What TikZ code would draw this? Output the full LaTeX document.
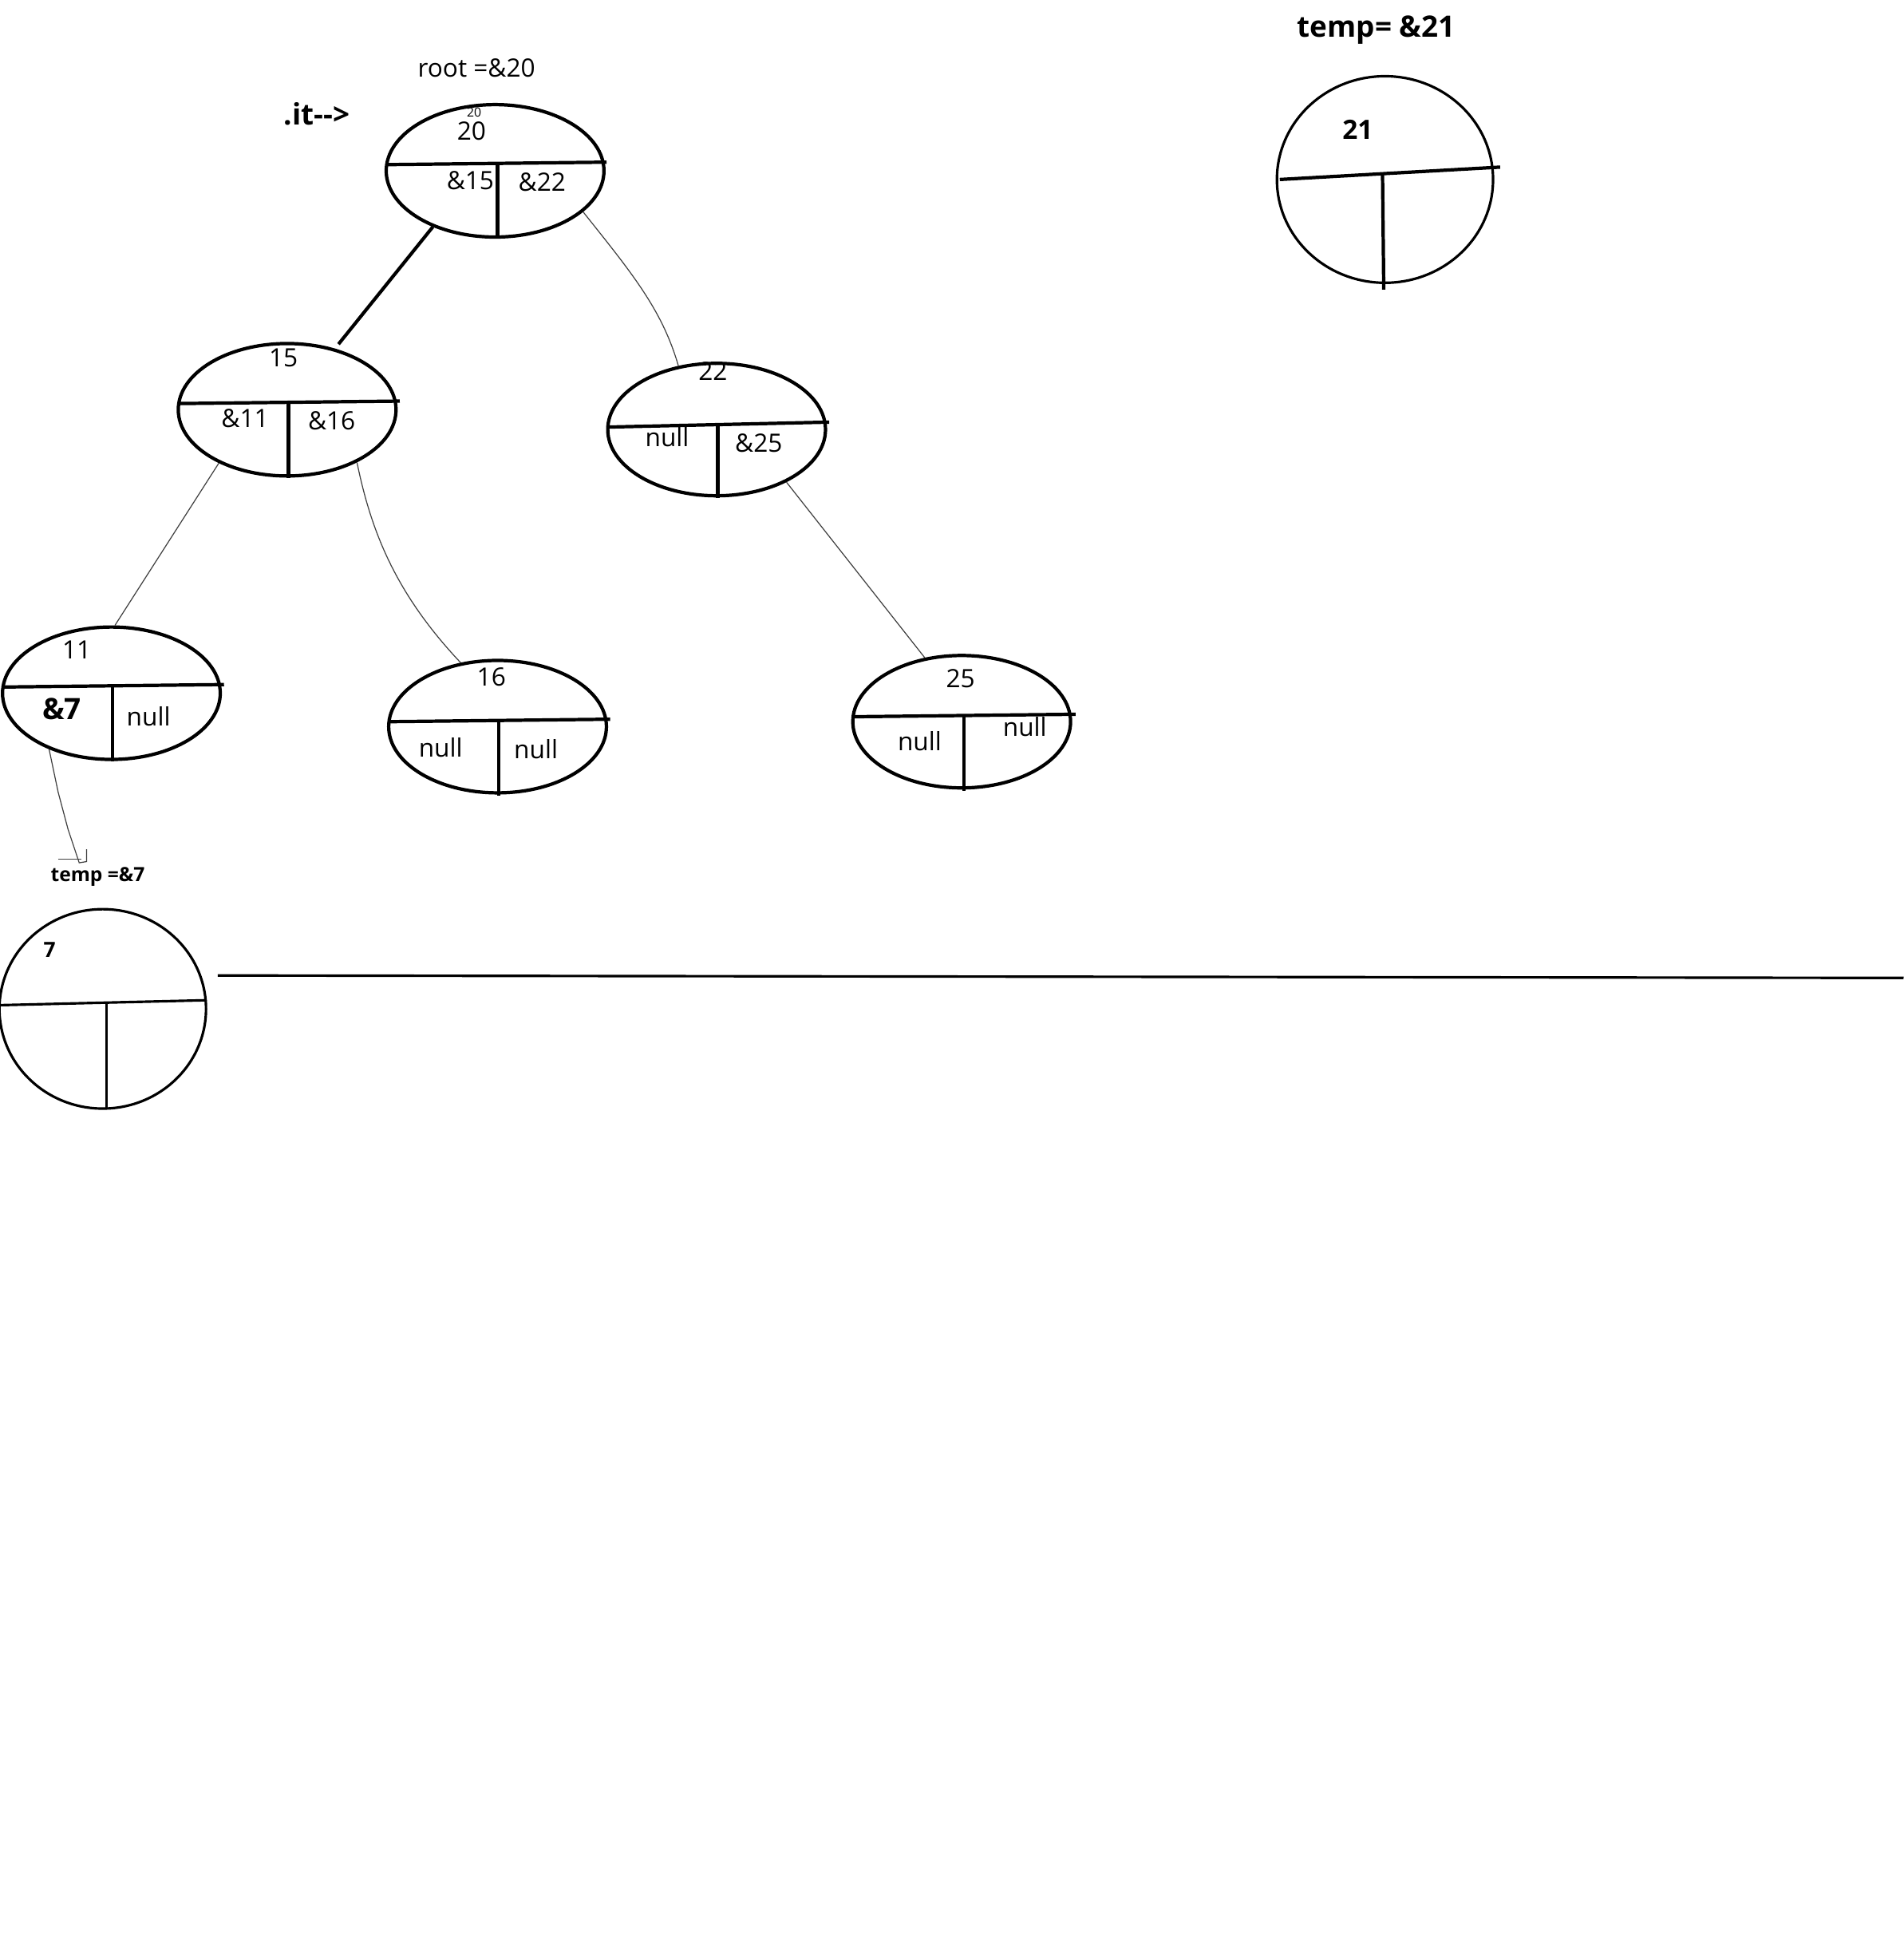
\documentclass[tikz,border=0pt]{standalone}
\usepackage{fontspec}
\setmainfont{Open Sans}
\usepackage{tikz}
\usetikzlibrary{shapes.geometric}

\begin{document}
\begin{tikzpicture}[x=0.015514cm, y=-0.015514cm, font=\fontsize{9}{11}\selectfont,
    cell/.style={draw, ellipse, line width=1.2pt, minimum width=2.73cm, minimum height=1.66cm, inner sep=0pt},
    ring/.style={draw, ellipse, line width=0.9pt, inner sep=0pt},
    bar/.style={line width=1.2pt},
    thinbar/.style={line width=0.9pt},
    link/.style={black!75, line width=0.35pt},
    txt/.style={inner sep=1pt},
    bold/.style={inner sep=1pt, font=\fontsize{10.5}{12}\selectfont\bfseries}]
\useasboundingbox (0,0) rectangle (1538,1568);

\node[cell] (n20) at (400,138) {};
\node[cell] (n15) at (232,331) {};
\node[cell] (n22) at (579,347) {};
\node[cell] (n11) at (90,560) {};
\node[cell] (n16) at (402,587) {};
\node[cell] (n25) at (777,583) {};
\node[ring, minimum width=2.59cm, minimum height=2.50cm] (n7) at (83,815) {};
\node[ring, minimum width=2.71cm, minimum height=2.59cm] (n21) at (1119,145) {};

\draw[bar] (312,133) -- (490,131);
\draw[bar] (402,131) -- (402,193);
\draw[bar] (144,326) -- (323,324);
\draw[bar] (233,324) -- (233,386);
\draw[bar] (491,345) -- (670,341);
\draw[bar] (580,342) -- (580,402);
\draw[bar] (2,555) -- (181,553);
\draw[bar] (91,553) -- (91,615);
\draw[bar] (314,583) -- (493,581);
\draw[bar] (403,581) -- (403,643);
\draw[bar] (689,579) -- (869,577);
\draw[bar] (779,577) -- (779,639);
\draw[thinbar] (0,812) -- (167,808);
\draw[thinbar] (86,810) -- (86,896);
\draw[bar] (1034,145) -- (1212,135);
\draw[bar] (1117,140) -- (1118,234);

\node[txt] (root) at (385,55) {root =\&20};
\node[bold] (it) at (256,92) {.it{-}{-}>};
\node[inner sep=0pt, font=\fontsize{4.5}{5}\selectfont] (v20s) at (383,91) {20};
\node[txt] (v20) at (381,106) {20};
\node[txt] (l20) at (380,146) {\&15};
\node[txt] (r20) at (438,147) {\&22};
\node[txt] (v15) at (229,289) {15};
\node[txt] (l15) at (198,338) {\&11};
\node[txt] (r15) at (268,340) {\&16};
\node[txt] (v22) at (576,300) {22};
\node[txt] (l22) at (539,353) {null};
\node[txt] (r22) at (613,358) {\&25};
\node[txt] (v11) at (62,525) {11};
\node[bold] (l11) at (50,573) {\&7};
\node[txt] (r11) at (120,579) {null};
\node[txt] (v16) at (397,547) {16};
\node[txt] (l16) at (356,604) {null};
\node[txt] (r16) at (433,605) {null};
\node[txt] (v25) at (776,548) {25};
\node[txt] (l25) at (743,599) {null};
\node[txt] (r25) at (828,587) {null};
\node[bold, font=\fontsize{7}{8}\selectfont\bfseries] (t7) at (79,708) {temp =\&7};
\node[bold, font=\fontsize{7.5}{9}\selectfont\bfseries] (v7) at (40,767) {7};
\node[bold] (t21) at (1112,24) {temp= \&21};
\node[bold, font=\fontsize{9.5}{11}\selectfont\bfseries] (v21) at (1097,105) {21};

\coordinate (hook) at (70,686);
\coordinate (tickl) at (47,694);
\coordinate (tickr) at (66,694);
\coordinate (ruleL) at (176,788);
\coordinate (ruleR) at (1538,790);

\draw[bar, shorten >=2pt] (n20.222) -- (n15.52);
\draw[link] (n20.-25) .. controls (510,220) and (535,250) .. (n22.121);
\draw[link] (n15.218) -- (n11.87);
\draw[link] (n15.-37) .. controls (300,430) and (320,480) .. (n16.120);
\draw[link] (n22.-37) -- (n25.120);
\draw[link] (n11.222) -- (47,640) -- (55,670) -- (64,697) -- (70,696) -- (hook);
\draw[link] (tickl) -- (tickr);
\draw[thinbar] (ruleL) -- (ruleR);
\end{tikzpicture}
\end{document}
